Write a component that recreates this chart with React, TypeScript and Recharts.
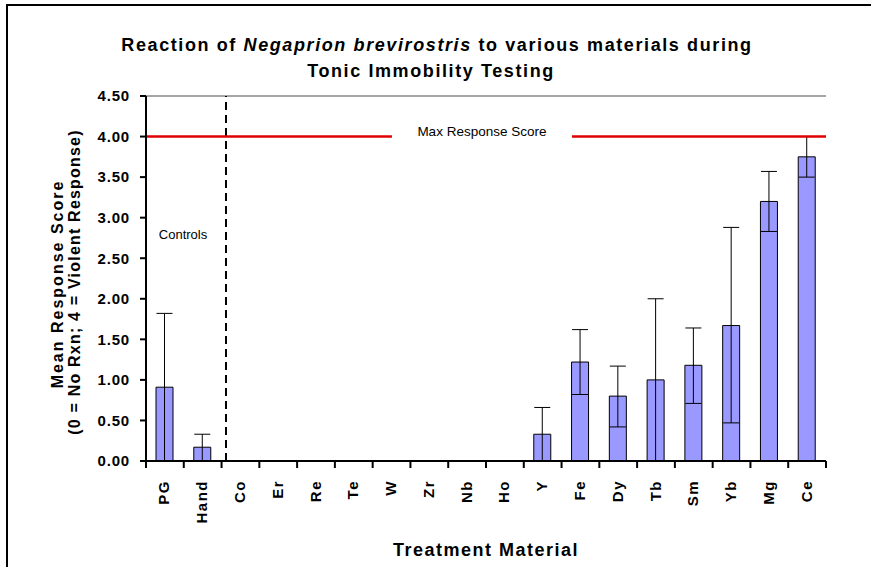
import { Bar, BarChart, Cell, ErrorBar, ReferenceLine, XAxis, YAxis } from 'recharts';

const MATERIALS = ['PG', 'Hand', 'Co', 'Er', 'Re', 'Te', 'W', 'Zr', 'Nb', 'Ho', 'Y', 'Fe', 'Dy', 'Tb', 'Sm', 'Yb', 'Mg', 'Ce'];
const MEAN_SCORE = [0.91, 0.17, 0, 0, 0, 0, 0, 0, 0, 0, 0.33, 1.22, 0.8, 1.0, 1.18, 1.67, 3.2, 3.75];
const ERR_LOW = [0.91, 0.17, 0, 0, 0, 0, 0, 0, 0, 0, 0.33, 0.4, 0.38, 1.0, 0.47, 1.2, 0.37, 0.25];
const ERR_HIGH = [0.91, 0.16, 0, 0, 0, 0, 0, 0, 0, 0, 0.33, 0.4, 0.37, 1.0, 0.46, 1.21, 0.37, 0.25];
const Y_TICKS = [0, 0.5, 1, 1.5, 2, 2.5, 3, 3.5, 4, 4.5];
const MAX_SCORE = 4;
const CONTROL_COUNT = 2;

const W = 871;
const H = 567;
const PLOT_LEFT = 146;
const PLOT_RIGHT = 826;
const STEP = (PLOT_RIGHT - PLOT_LEFT) / MATERIALS.length;
const FONT = '"Liberation Sans", Arial, sans-serif';

const data = MATERIALS.map((name, i) => ({
  name,
  score: MEAN_SCORE[i],
  err: [ERR_LOW[i], ERR_HIGH[i]],
}));

function MaterialTick({ x, y, payload, index }: any) {
  const last = index === MATERIALS.length - 1;
  return (
    <g>
      <line x1={x - STEP / 2} x2={x - STEP / 2} y1={y} y2={y + 7} stroke="#000" strokeWidth={2} />
      {last && <line x1={x + STEP / 2} x2={x + STEP / 2} y1={y} y2={y + 7} stroke="#000" strokeWidth={2} />}
      <text
        transform={`translate(${x - 1},${y + 19}) rotate(-90)`}
        textAnchor="end"
        dominantBaseline="central"
        fontFamily={FONT}
        fontWeight="bold"
        fontSize={15}
        letterSpacing={1.5}
        fill="#000"
      >
        {payload.value}
      </text>
    </g>
  );
}

function MaxLabel({ viewBox }: any) {
  const cx = viewBox.x + viewBox.width * 0.494;
  return (
    <g>
      <rect x={cx - 90} y={viewBox.y - 12} width={180} height={16} fill="#fff" />
      <text x={cx} y={viewBox.y - 1} textAnchor="middle" fontFamily={FONT} fontSize={13.5} fill="#000">
        Max Response Score
      </text>
    </g>
  );
}

export default function App() {
  return (
    <div style={{ position: 'absolute', left: 0, top: 0, width: W, height: H, background: '#fff', overflow: 'hidden' }}>
      <div style={{ position: 'absolute', left: 6, top: 4, right: -10, bottom: -10, borderLeft: '2px solid #000', borderTop: '2px solid #000' }} />
      <BarChart
        width={W}
        height={H}
        data={data}
        margin={{ top: 96, right: W - PLOT_RIGHT, bottom: 46, left: PLOT_LEFT - 60 }}
        barCategoryGap={0}
      >
        <XAxis
          dataKey="name"
          interval={0}
          height={60}
          tickLine={false}
          tickSize={0}
          tickMargin={0}
          axisLine={{ stroke: '#000', strokeWidth: 2 }}
          tick={<MaterialTick />}
        />
        <XAxis xAxisId="num" type="number" domain={[0, MATERIALS.length]} allowDataOverflow hide />
        <YAxis
          width={60}
          domain={[0, 4.5]}
          ticks={Y_TICKS}
          interval={0}
          tickFormatter={(v: number) => v.toFixed(2)}
          tickSize={6}
          tickMargin={10}
          axisLine={{ stroke: '#000', strokeWidth: 2 }}
          tickLine={{ stroke: '#000', strokeWidth: 2 }}
          tick={{ fill: '#000', fontSize: 15, fontWeight: 'bold', fontFamily: FONT, letterSpacing: 0.8 }}
        />
        <ReferenceLine y={4.5} stroke="#888" strokeWidth={1.5} />
        <ReferenceLine xAxisId="num" x={MATERIALS.length} stroke="#888" strokeWidth={1.5} />
        <Bar dataKey="score" barSize={17} fill="#9999FF" stroke="#000" strokeWidth={1} isAnimationActive={false}>
          {data.map((d, i) => (
            <Cell key={i} fill="#9999FF" />
          ))}
          <ErrorBar dataKey="err" width={8} stroke="#000" strokeWidth={1} isAnimationActive={false} />
        </Bar>
        <ReferenceLine xAxisId="num" x={CONTROL_COUNT} stroke="#000" strokeWidth={2} strokeDasharray="8 5" />
        <ReferenceLine y={MAX_SCORE} stroke="#E00000" strokeWidth={2.5} label={<MaxLabel />} />
      </BarChart>
      <svg width={W} height={H} style={{ position: 'absolute', left: 0, top: 0, pointerEvents: 'none' }}>
        <g fontFamily={FONT} fontWeight="bold" fill="#000">
          <text x={437} y={51} textAnchor="middle" fontSize={18} letterSpacing={1.6}>
            Reaction of <tspan fontStyle="italic">Negaprion brevirostris</tspan> to various materials during
          </text>
          <text x={431} y={77} textAnchor="middle" fontSize={18} letterSpacing={1.6}>
            Tonic Immobility Testing
          </text>
          <text x={486} y={556} textAnchor="middle" fontSize={18} letterSpacing={1.5}>
            Treatment Material
          </text>
          <text transform="translate(57,284) rotate(-90)" textAnchor="middle" dominantBaseline="central" fontSize={16} letterSpacing={2}>
            Mean Response Score
          </text>
          <text transform="translate(74,282) rotate(-90)" textAnchor="middle" dominantBaseline="central" fontSize={16} letterSpacing={1.2}>
            (0 = No Rxn; 4 = Violent Response)
          </text>
        </g>
        <text x={183} y={239} textAnchor="middle" fontFamily={FONT} fontSize={13} fill="#000">
          Controls
        </text>
      </svg>
    </div>
  );
}
